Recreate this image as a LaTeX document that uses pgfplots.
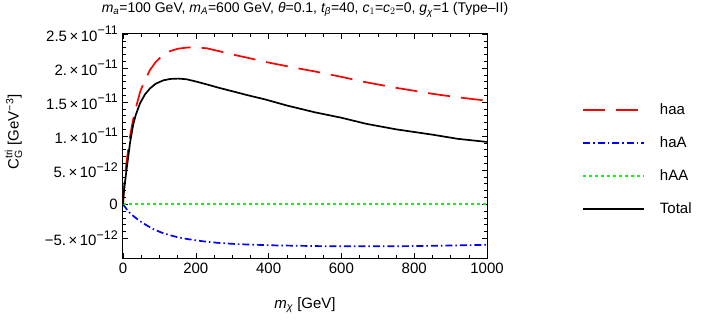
\documentclass[border=0pt]{standalone}
\usepackage{amsmath}
\usepackage{fontspec}
\setmainfont{Liberation Sans}
\usepackage{pgfplots}
\pgfplotsset{compat=1.18}
% long legend keys, as in the reference
\pgfplotsset{longleg/.style={legend image code/.code={\draw[##1] (0pt,0pt) -- (61pt,0pt);}}}

\newcommand\mi[1]{\textit{#1}}
\newcommand\sci[2]{#1\hspace{2.5pt}×\hspace{2.5pt}10\raisebox{0.45em}{\fontsize{12.5pt}{13pt}\selectfont #2}}

\begin{document}
\fontsize{15pt}{17pt}\selectfont
\begin{tikzpicture}
\useasboundingbox (-123pt,-63pt) rectangle (585pt,258pt);
\begin{axis}[
    scale only axis, width=364pt, height=224pt,
    xmin=0, xmax=1000, ymin=-7.9, ymax=25,
    xtick={0,200,...,1000}, minor x tick num=3,
    ytick={-5,0,5,10,15,20,25},
    yticklabels={−\sci{5.}{−12}, 0, \sci{5.}{−12}, \sci{1.}{−11}, \sci{1.5}{−11}, \sci{2.}{−11}, \sci{2.5}{−11}},
    minor y tick num=4,
    tick align=inside, major tick length=5pt, minor tick length=3pt,
    every tick/.style={black, line width=0.6pt},
    axis line style={line width=1pt},
    /pgf/number format/assume math mode=true,
    /pgf/number format/set thousands separator={},
    tick label style={font=\fontsize{15pt}{17pt}\selectfont},
    xlabel={$\mi{m}_{\mi{χ}}$ [GeV]},
    xlabel style={at={(0.5,0)}, anchor=center, yshift=-47pt},
    ylabel={$\text{C}^{\text{tri}}_{\text{G}}$ [GeV\textsuperscript{−3}]},
    ylabel style={at={(-0.3008,0.5625)}, anchor=center},
    title={$\mi{m}_{\mi{a}}$=100 GeV, $\mi{m}_{\mi{A}}$=600 GeV, \mi{θ}=0.1, $\mi{t}_{\mi{β}}$=40, $\mi{c}_{1}$=$\mi{c}_{2}$=0, $\mi{g}_{\mi{χ}}$=1 (Type–II)},
    title style={at={(0.5,1)}, anchor=south, yshift=10pt, inner sep=0pt,
        font=\fontsize{14pt}{17pt}\selectfont},
    legend style={draw=none, fill=none, at={(1.261,0.70)}, anchor=north west,
        inner sep=0pt, row sep=16pt, column sep=15pt,
        font=\fontsize{15pt}{17pt}\selectfont,
        nodes={inner xsep=0pt, fill=none}},
    legend cell align=left,
]
\addplot[red, line width=1.7pt, dash pattern=on 22pt off 11pt, longleg] coordinates {
(0,0) (2,2.0) (5,4.0) (10,6.3) (15,8.4) (20,10.2) (28,12.5) (35,14.1) (47,16.5)
(60,18.2) (74,19.7) (90,20.9) (111,21.96) (130,22.5) (152,22.85) (175,23.0)
(202,23.03) (230,22.9) (266,22.45) (300,22.0) (343,21.5) (400,20.8) (486,19.9)
(527,19.5) (600,18.7) (669,17.9) (750,17.1) (852,16.2) (920,15.7) (1000,15.2)};
\addlegendentry{haa}
\addplot[blue, line width=1.7pt, dash pattern=on 7pt off 3pt on 1.5pt off 3pt, longleg] coordinates {
(0,0) (5,-0.35) (10,-0.74) (20,-1.35) (30,-1.8) (47,-2.5) (65,-3.1) (83,-3.65)
(105,-4.15) (129,-4.55) (150,-4.85) (175,-5.1) (220,-5.45) (266,-5.7) (310,-5.85)
(358,-5.95) (420,-6.05) (532,-6.15) (600,-6.18) (700,-6.18) (800,-6.15)
(900,-6.07) (1000,-5.96)};
\addlegendentry{haA}
\addplot[green, line width=1.7pt, dash pattern=on 3pt off 3pt, longleg] coordinates {
(0,0) (1000,0)};
\addlegendentry{hAA}
\addplot[black, line width=1.7pt, longleg] coordinates {
(0,0) (2,1.5) (5,3.0) (10,5.2) (15,7.2) (19,8.9) (28,11.7) (35,13.1) (47,14.85)
(60,16.1) (74,17.0) (90,17.7) (111,18.2) (130,18.4) (152,18.45) (175,18.35)
(202,18.0) (230,17.6) (266,17.06) (300,16.6) (343,16.0) (390,15.4) (450,14.5)
(527,13.5) (600,12.7) (669,11.8) (750,11.0) (852,10.2) (920,9.6) (1000,9.15)};
\addlegendentry{Total}
\end{axis}
\end{tikzpicture}
\end{document}
